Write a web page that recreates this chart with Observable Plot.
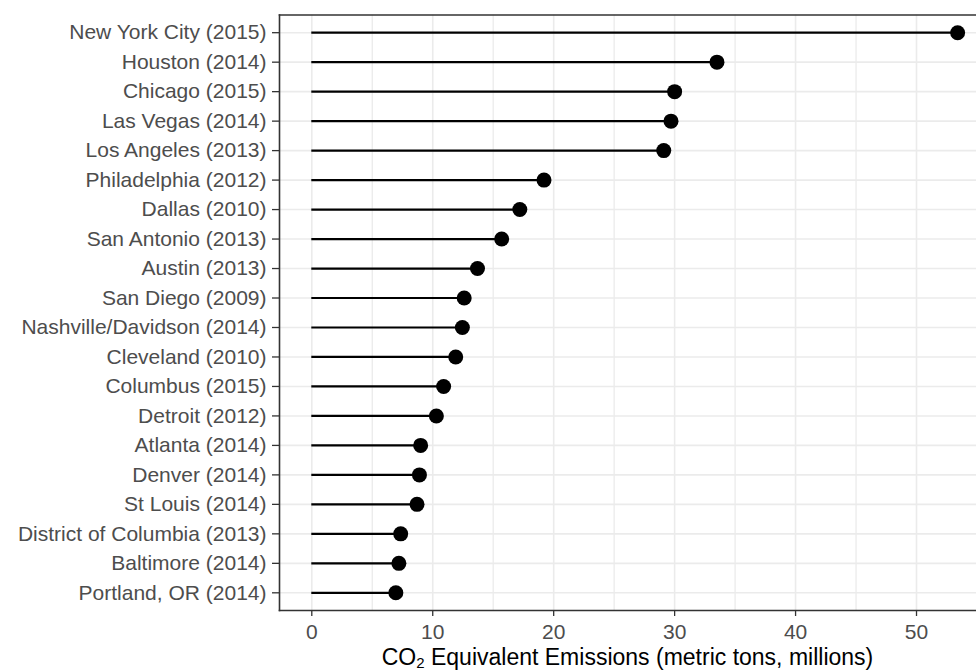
<!DOCTYPE html>
<html>
<head>
<meta charset="utf-8">
<script src="https://cdn.jsdelivr.net/npm/d3@7"></script>
<script src="https://cdn.jsdelivr.net/npm/@observablehq/plot@0.6"></script>
<style>
  html, body { margin: 0; padding: 0; background: #fff; }
  svg { display: block; font-family: "Liberation Sans", Arial, sans-serif; }
</style>
</head>
<body>
<div id="chart"></div>
<script>
const cities = [
  "New York City (2015)", "Houston (2014)", "Chicago (2015)", "Las Vegas (2014)",
  "Los Angeles (2013)", "Philadelphia (2012)", "Dallas (2010)", "San Antonio (2013)",
  "Austin (2013)", "San Diego (2009)", "Nashville/Davidson (2014)", "Cleveland (2010)",
  "Columbus (2015)", "Detroit (2012)", "Atlanta (2014)", "Denver (2014)",
  "St Louis (2014)", "District of Columbia (2013)", "Baltimore (2014)", "Portland, OR (2014)"
];
const emissions = [
  53.4, 33.5, 30.0, 29.7,
  29.1, 19.2, 17.2, 15.7,
  13.7, 12.6, 12.45, 11.9,
  10.9, 10.3, 9.0, 8.9,
  8.7, 7.35, 7.2, 6.95
];
const majorTicks = [0, 10, 20, 30, 40, 50];
const minorTicks = [5, 15, 25, 35, 45, 55];
const xLabelPre = "CO";
const xLabelSub = "2";
const xLabelPost = " Equivalent Emissions (metric tons, millions)";

const data = cities.map((c, i) => ({city: c, value: emissions[i]}));

const W = 976, H = 672;
const mL = 279, mR = 0, mT = 14.5, mB = 62;
const xmax = d3.max(emissions);
const pad = xmax * 0.05;

const chart = Plot.plot({
  width: W,
  height: H,
  marginLeft: mL,
  marginRight: mR,
  marginTop: mT,
  marginBottom: mB,
  style: {fontFamily: "Liberation Sans, Arial, sans-serif", background: "#fff"},
  x: {domain: [-pad, 54.96], label: null},
  y: {type: "point", domain: cities, padding: 0.6, round: false, label: null},
  marks: [
    Plot.ruleX(minorTicks, {stroke: "#EBEBEB", strokeWidth: 1.3}),
    Plot.ruleX(majorTicks, {stroke: "#EBEBEB", strokeWidth: 1.6}),
    Plot.ruleY(cities, {y: d => d, stroke: "#EBEBEB", strokeWidth: 1.6}),
    Plot.ruleY(data, {y: "city", x1: 0, x2: "value", stroke: "#000", strokeWidth: 2.2}),
    Plot.dot(data, {y: "city", x: "value", r: 7.5, fill: "#000", stroke: "none"}),
    Plot.axisY({
      tickSize: 7, tickPadding: 6, fontSize: 21, color: "#4D4D4D",
      stroke: "#333333", strokeWidth: 1.3, label: null
    }),
    Plot.axisX(majorTicks, {
      tickSize: 6, tickPadding: 8, fontSize: 21, color: "#4D4D4D",
      stroke: "#333333", strokeWidth: 1.3, label: null
    }),
    Plot.frame({stroke: "#333333", strokeWidth: 1.6, anchor: "top"}),
    Plot.frame({stroke: "#333333", strokeWidth: 1.6, anchor: "bottom"}),
    Plot.frame({stroke: "#333333", strokeWidth: 1.6, anchor: "left"})
  ]
});

const svg = d3.select(chart);
const titleCenter = (mL + W) / 2;
const t = svg.append("text")
  .attr("x", titleCenter)
  .attr("y", 664.5)
  .attr("text-anchor", "middle")
  .attr("font-size", 23)
  .attr("fill", "#000")
  .attr("font-family", "Liberation Sans, Arial, sans-serif");
t.append("tspan").text(xLabelPre);
t.append("tspan").attr("font-size", 15).attr("dy", 3.5).text(xLabelSub);
t.append("tspan").attr("dy", -3.5).text(xLabelPost);

document.getElementById("chart").appendChild(chart);
</script>
</body>
</html>
